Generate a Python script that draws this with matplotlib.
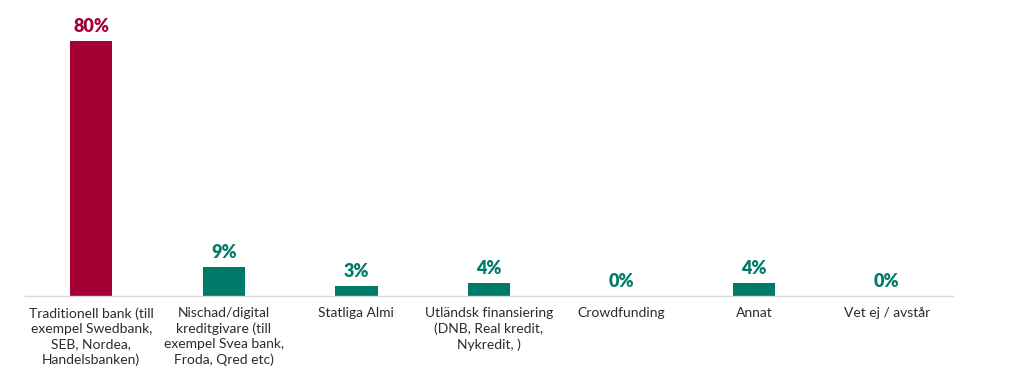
import matplotlib
matplotlib.use("Agg")
import matplotlib.pyplot as plt

categories = [
    "Traditionell bank (till\nexempel Swedbank,\nSEB, Nordea,\nHandelsbanken)",
    "Nischad/digital\nkreditgivare (till\nexempel Svea bank,\nFroda, Qred etc)",
    "Statliga Almi",
    "Utländsk finansiering\n(DNB, Real kredit,\nNykredit, )",
    "Crowdfunding",
    "Annat",
    "Vet ej / avstår",
]
values = [80, 9, 3, 4, 0, 4, 0]
labels = ["80%", "9%", "3%", "4%", "0%", "4%", "0%"]
colors = ["#A50034", "#007A69", "#007A69", "#007A69", "#007A69", "#007A69", "#007A69"]

plt.rcParams['font.family'] = ['Lato', 'DejaVu Sans']

fig = plt.figure(figsize=(10.12, 3.79), dpi=100)
ax = fig.add_axes([25/1012, (379-296)/379, (953-25)/1012, (296-10)/379])

x = list(range(len(categories)))
ax.bar(x, values, width=0.32, color=colors, zorder=2)
ax.set_xlim(-0.5, len(categories) - 0.5)
ax.set_ylim(0, 89.7)

for xi, v, lab, c in zip(x, values, labels, colors):
    ax.annotate(lab, (xi, v), xytext=(0, 6.5), textcoords="offset points",
                ha="center", va="baseline", fontsize=13, fontweight="heavy", color=c)

ax.set_xticks(x)
ax.set_xticklabels(categories, fontsize=10, color="#2b2b2b", linespacing=1.33, va="top")
ax.tick_params(axis="x", length=0, pad=8)
ax.set_yticks([])
for s in ["top", "right", "left"]:
    ax.spines[s].set_visible(False)
ax.spines["bottom"].set_color("#d9d9d9")
ax.spines["bottom"].set_linewidth(1)

fig.savefig("out.png", dpi=100)
